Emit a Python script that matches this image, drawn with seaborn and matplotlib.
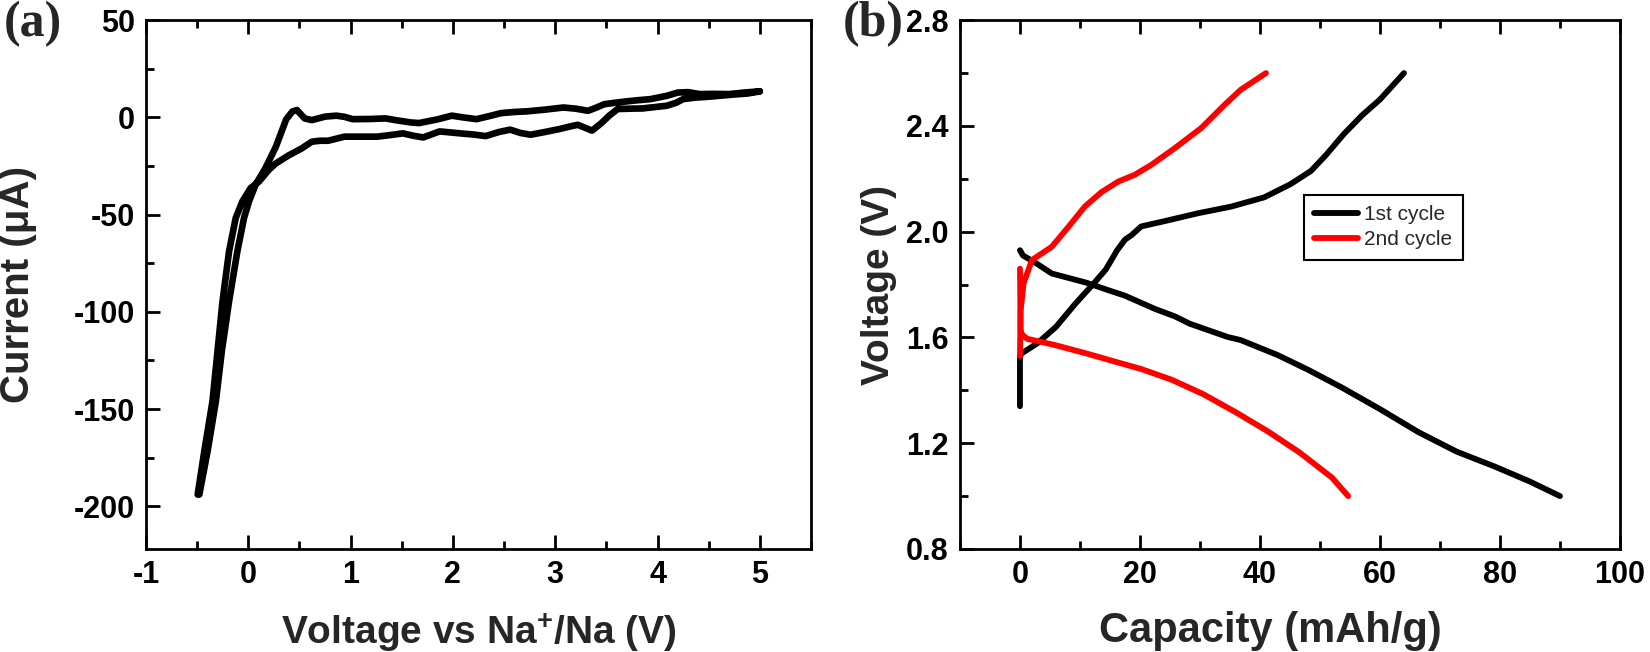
import numpy as np
import pandas as pd
import matplotlib
matplotlib.use('Agg')
import matplotlib.pyplot as plt
from matplotlib.ticker import MultipleLocator, FormatStrFormatter
import seaborn as sns

# Panel (a): cyclic voltammogram, upper branch (5 V -> -0.5 V)
cv_up_v = [5.0, 4.85, 4.7, 4.55, 4.41, 4.3, 4.2, 4.09, 3.93, 3.8, 3.69, 3.58, 3.48, 3.4,
           3.32, 3.2, 3.08, 2.9, 2.72, 2.6, 2.47, 2.35, 2.23, 2.1, 1.99, 1.85, 1.67, 1.59,
           1.45, 1.34, 1.2, 1.02, 0.94, 0.86, 0.75, 0.62, 0.55, 0.475, 0.43, 0.37, 0.27,
           0.168, 0.071, 0.007, -0.042, -0.107, -0.188, -0.259, -0.317, -0.398, -0.479]
cv_up_i = [13.4, 12.8, 12.0, 12.1, 12.0, 13.0, 12.8, 11.1, 9.4, 8.8, 8.2, 7.5, 6.8, 5.0,
           3.4, 4.5, 5.1, 4.0, 3.1, 2.8, 2.2, 0.6, -0.9, 0.0, 0.9, -1.0, -2.9, -2.6,
           -1.5, -0.5, -0.8, -0.9, 0.3, 0.9, 0.4, -1.4, -0.5, 3.8, 3.0, -1.0, -15,
           -26, -34.6, -43.2, -51.7, -68.8, -94.5, -120.2, -145.9, -171.6, -194]
# lower branch (-0.5 V -> 5 V)
cv_dn_v = [-0.495, -0.43, -0.35, -0.301, -0.252, -0.188, -0.123, -0.058, 0.023, 0.104,
           0.2, 0.265, 0.395, 0.52, 0.62, 0.7, 0.78, 0.94, 1.1, 1.26, 1.4, 1.51, 1.62,
           1.71, 1.87, 2.07, 2.2, 2.32, 2.45, 2.56, 2.66, 2.76, 2.9, 3.04, 3.15, 3.22,
           3.3, 3.36, 3.45, 3.53, 3.61, 3.73, 3.85, 3.97, 4.09, 4.18, 4.25, 4.37, 4.49,
           4.62, 4.75, 4.88, 5.0]
cv_dn_i = [-194, -171.6, -145.9, -120.2, -94.5, -68.8, -51.7, -43.2, -36.3, -33,
           -27, -23.8, -19.5, -16, -12.5, -12, -12, -9.9, -9.9, -9.9, -9.0, -8.2, -9.5,
           -10.3, -7.2, -8.2, -8.8, -9.6, -7.5, -6.3, -8.0, -8.9, -7.5, -6.0, -4.6, -3.8,
           -5.5, -6.8, -3.0, 1.0, 4.3, 4.5, 4.6, 5.3, 6.0, 7.5, 9.4, 10.2, 10.6,
           11.2, 11.8, 12.3, 13.4]

# Panel (b): galvanostatic curves
dis1_cap = [0, 0.5, 2.2, 5.3, 11.1, 14.7, 17.5, 22.5, 25.8, 28.3, 34.6, 36.8, 42.9, 48,
            53.7, 60, 66.4, 72.8, 79.1, 84.9, 90]
dis1_v = [1.93, 1.91, 1.888, 1.842, 1.807, 1.779, 1.758, 1.708, 1.68, 1.652, 1.602, 1.59,
          1.534, 1.478, 1.41, 1.329, 1.242, 1.168, 1.112, 1.056, 1.0]
chg1_cap = [0, 0, 0.3, 2.9, 6, 9.2, 12.4, 14.3, 16.2, 17.5, 18.6, 20.2, 24.1, 29.7, 35.2,
            40.7, 45.1, 48.5, 51, 54, 57, 60, 62, 64]
chg1_v = [1.34, 1.53, 1.54, 1.578, 1.64, 1.727, 1.807, 1.857, 1.93, 1.97, 1.987, 2.02,
          2.04, 2.07, 2.095, 2.13, 2.18, 2.23, 2.29, 2.37, 2.44, 2.5, 2.55, 2.6]
dis2_cap = [0, 0.1, 0.3, 1.2, 5.7, 11, 16.4, 20.3, 25.3, 30.6, 35.9, 41.3, 46.6, 52,
            54.7]
dis2_v = [1.86, 1.63, 1.612, 1.595, 1.572, 1.54, 1.505, 1.48, 1.44, 1.385, 1.318, 1.245,
          1.165, 1.07, 1.0]
chg2_cap = [0, 0.1, 0.6, 2.0, 5.3, 8.1, 10.8, 13.6, 16.4, 19.1, 21.9, 25.8, 30.2, 34.1,
            36.8, 39, 41]
chg2_v = [1.53, 1.70, 1.805, 1.893, 1.943, 2.019, 2.095, 2.15, 2.19, 2.215, 2.253, 2.316,
          2.392, 2.48, 2.537, 2.57, 2.6]

cycle_labels = ['1st cycle', '2nd cycle']
cycle_colors = ['black', 'red']

# build frames
cv_df = pd.DataFrame({'voltage': cv_up_v + cv_dn_v, 'current': cv_up_i + cv_dn_i})

parts = []
for cap, v, cyc, seg in [(dis1_cap, dis1_v, cycle_labels[0], 'd1'),
                         (chg1_cap, chg1_v, cycle_labels[0], 'c1'),
                         (dis2_cap, dis2_v, cycle_labels[1], 'd2'),
                         (chg2_cap, chg2_v, cycle_labels[1], 'c2')]:
    parts.append(pd.DataFrame({'capacity': cap, 'voltage': v, 'cycle': cyc, 'segment': seg}))
gcd_df = pd.concat(parts, ignore_index=True)

sns.set_theme(style='ticks')
plt.rcParams['font.family'] = ['Liberation Sans', 'DejaVu Sans']
plt.rcParams['font.weight'] = 'bold'
plt.rcParams['axes.unicode_minus'] = False
plt.rcParams['mathtext.fontset'] = 'custom'
plt.rcParams['mathtext.rm'] = 'Liberation Sans:bold'
plt.rcParams['mathtext.bf'] = 'Liberation Sans:bold'
plt.rcParams['mathtext.default'] = 'bf'

fig = plt.figure(figsize=(16.5, 6.52), dpi=100)
ax1 = fig.add_axes([0.0885, 0.158, 0.4030, 0.811])
ax2 = fig.add_axes([0.5818, 0.158, 0.4000, 0.811])

sns.lineplot(data=cv_df, x='voltage', y='current', sort=False, estimator=None,
             color='black', lw=4.8, ax=ax1)

sns.lineplot(data=gcd_df, x='capacity', y='voltage', hue='cycle', units='segment',
             estimator=None, sort=False, palette=dict(zip(cycle_labels, cycle_colors)),
             lw=4.2, ax=ax2)

ax1.set_xlim(-1, 5.5)
ax1.set_ylim(-222, 50)
ax1.xaxis.set_major_locator(MultipleLocator(1))
ax1.xaxis.set_minor_locator(MultipleLocator(0.5))
ax1.yaxis.set_major_locator(MultipleLocator(50))
ax1.yaxis.set_minor_locator(MultipleLocator(25))
ax1.set_xlabel('Voltage vs Na$^{+}$/Na (V)', fontsize=28, fontweight='bold')
ax1.set_ylabel('Current (μA)', fontsize=29, fontweight='bold')
ax1.xaxis.set_label_coords(0.5, -0.118)
ax1.yaxis.set_label_coords(-0.164, 0.5)

ax2.set_xlim(-10, 100)
ax2.set_ylim(0.8, 2.8)
ax2.xaxis.set_major_locator(MultipleLocator(20))
ax2.xaxis.set_minor_locator(MultipleLocator(10))
ax2.yaxis.set_major_locator(MultipleLocator(0.4))
ax2.yaxis.set_minor_locator(MultipleLocator(0.2))
ax2.yaxis.set_major_formatter(FormatStrFormatter('%.1f'))
ax2.set_xlabel('Capacity (mAh/g)', fontsize=30, fontweight='bold')
ax2.set_ylabel('Voltage (V)', fontsize=28, fontweight='bold')
ax2.xaxis.set_label_coords(0.47, -0.118)
ax2.yaxis.set_label_coords(-0.095, 0.5)

for ax in (ax1, ax2):
    for sp in ax.spines.values():
        sp.set_linewidth(2)
        sp.set_color('black')
        sp.set_visible(True)
    ax.tick_params(which='both', direction='in', top=True, right=False, width=2,
                   colors='black', labelsize=22, pad=8)
    ax.tick_params(which='major', length=10)
    ax.tick_params(which='minor', length=6)
    for lab in ax.get_xticklabels() + ax.get_yticklabels():
        lab.set_fontweight('bold')

handles, labels = ax2.get_legend_handles_labels()
ax2.legend(handles, labels, loc='upper left', bbox_to_anchor=(0.505, 0.69),
           frameon=True, fancybox=False, edgecolor='black', framealpha=1,
           prop={'family': 'Liberation Sans', 'weight': 'normal', 'size': 15},
           handlelength=2.1, handletextpad=0.3, borderpad=0.5, labelspacing=0.3)
ax2.get_legend().get_frame().set_linewidth(1.5)

fig.text(0.002, 0.998, '(a)', family='Liberation Serif', fontweight='bold', fontsize=36,
         va='top', ha='left')
fig.text(0.511, 0.998, '(b)', family='Liberation Serif', fontweight='bold', fontsize=36,
         va='top', ha='left')

fig.savefig('out.png', dpi=100)
